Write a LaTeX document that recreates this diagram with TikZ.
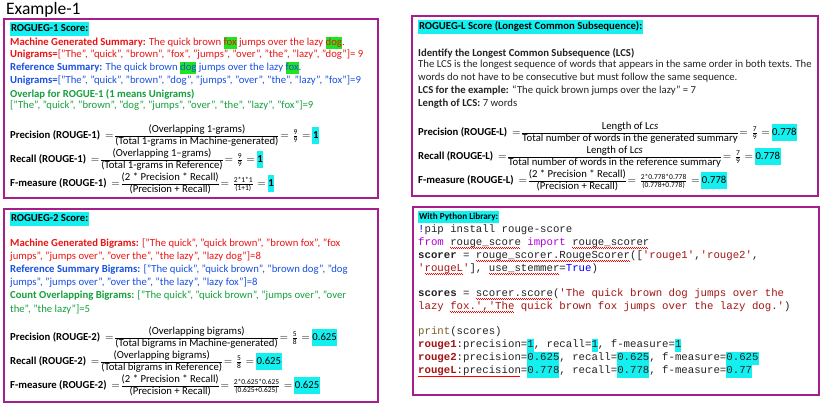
\documentclass[tikz,border=0pt]{standalone}
\usepackage{fontspec}
\usepackage{amsmath}
\setmainfont{Carlito}
\setmonofont{Liberation Mono}
\definecolor{frame}{RGB}{165,30,140}
\definecolor{hcyan}{RGB}{20,240,240}
\definecolor{hgreen}{RGB}{30,230,30}
\definecolor{tred}{RGB}{235,20,20}
\definecolor{tblue}{RGB}{25,80,225}
\definecolor{tgreen}{RGB}{20,160,60}
\definecolor{cpurple}{RGB}{175,0,219}
\definecolor{cstr}{RGB}{163,21,21}
\definecolor{cblue}{RGB}{0,0,255}
\definecolor{cprint}{RGB}{121,94,38}
\definecolor{ttext}{RGB}{35,35,35}
\newcommand{\hlc}[1]{{\setlength{\fboxsep}{0.8pt}\colorbox{hcyan}{\strut #1}}}
\newcommand{\hlg}[1]{{\setlength{\fboxsep}{0pt}\colorbox{hgreen}{\strut #1}}}
\newcommand{\hlk}[1]{{\setlength{\fboxsep}{0pt}\colorbox{hcyan}{\strut #1}}}
\newcommand{\hlf}[1]{{\setlength{\fboxsep}{0.6pt}\colorbox{hcyan}{\rule[-5pt]{0pt}{16pt}#1}}}
\newcommand{\ffrac}[2]{{\renewcommand{\arraystretch}{0.9}\begin{tabular}{@{}c@{}}#1\\\hline #2\end{tabular}}}
\newcommand{\sfr}[2]{\,$=$\,\,$\tfrac{\text{#1}}{\text{#2}}$\,\,$=$\,}
\newsavebox{\wavebox}
\newcommand{\rwave}[1]{\sbox{\wavebox}{#1}\rlap{\hbox to \wd\wavebox{\color{red}\leaders\hbox to 2pt{\rule[-2.6pt]{1pt}{0.6pt}\rule[-3.3pt]{1pt}{0.6pt}}\hfill}}\usebox{\wavebox}}
\tikzset{
  box/.style={draw=frame, line width=1.6pt},
  txt/.style={anchor=west, inner sep=0pt, font=\fontsize{10.7}{12.5}\selectfont},
  code/.style={anchor=west, inner sep=0pt, text=ttext, font=\ttfamily\fontsize{10.7}{13}\selectfont},
}
\begin{document}
\begin{tikzpicture}[x=1pt,y=-1pt]
\useasboundingbox[fill=white] (0,0) rectangle (828,415);
\node[anchor=west, inner sep=0pt, font=\fontsize{17.5}{20}\selectfont] (title) at (6,10) {Example-1};
% boxes
\draw[box] (4,19) rectangle (378,198);
\draw[box] (4,209) rectangle (378,402);
\draw[box] (412,16) rectangle (818,196);
\draw[box] (413,207) rectangle (819,395);
% ---- ROUGE-1
\node[txt] (a1) at (10,29) {\hlc{\textbf{ROGUEG-1 Score:}}};
\node[txt, text=tred] (a2) at (10,43) {\textbf{Machine Generated Summary:} The quick brown \hlg{fox} jumps over the lazy \hlg{dog}.};
\node[txt, text=tred] (a3) at (10,55) {\textbf{Unigrams=}["The", "quick", "brown", "fox", "jumps", "over", "the", "lazy", "dog"]= 9};
\node[txt, text=tblue] (a4) at (10,68) {\textbf{Reference Summary:} The quick brown \hlg{dog} jumps over the lazy \hlg{fox}.};
\node[txt, text=tblue] (a5) at (10,81) {\textbf{Unigrams=}["The", "quick", "brown", "dog", "jumps", "over", "the", "lazy", "fox"]=9};
\node[txt, text=tgreen] (a6) at (10,94) {\textbf{Overlap for ROGUE-1 (1 means Unigrams)}};
\node[txt, text=tgreen] (a7) at (10,106) {["The", "quick", "brown", "dog", "jumps", "over", "the", "lazy", "fox"]=9};
\node[txt] (a8) at (10,136) {\textbf{Precision (ROUGE-1)}~ $=$\,\ffrac{(Overlapping 1-grams)}{(Total 1-grams in Machine-generated)}\sfr{9}{9}\hlf{\textbf{1}}};
\node[txt] (a9) at (10,160) {\textbf{Recall (ROUGE-1)}~ $=$\,\ffrac{(Overlapping 1–grams)}{(Total 1-grams in Reference)}\sfr{9}{9}\hlf{\textbf{1}}};
\node[txt] (a10) at (10,184) {\textbf{F-measure (ROUGE-1)}~ $=$\,\ffrac{(2 * Precision * Recall)}{(Precision + Recall)}\sfr{2*1*1}{(1+1)}\hlf{\textbf{1}}};
% ---- ROUGE-2
\node[txt] (b1) at (10,219) {\hlc{\textbf{ROGUEG-2 Score:}}};
\node[txt, text=tred] (b2) at (10,244) {\textbf{Machine Generated Bigrams:} ["The quick", "quick brown", "brown fox", "fox};
\node[txt, text=tred] (b3) at (10,257) {jumps", "jumps over", "over the", "the lazy", "lazy dog"]=8};
\node[txt, text=tblue] (b4) at (10,270) {\textbf{Reference Summary Bigrams:} ["The quick", "quick brown", "brown dog", "dog};
\node[txt, text=tblue] (b5) at (10,283) {jumps", "jumps over", "over the", "the lazy", "lazy fox"]=8};
\node[txt, text=tgreen] (b6) at (10,296) {\textbf{Count Overlapping Bigrams:} ["The quick", "quick brown", "jumps over", "over};
\node[txt, text=tgreen] (b7) at (10,309) {the", "the lazy"]=5};
\node[txt] (b8) at (10,338) {\textbf{Precision (ROUGE-2)}~ $=$\,\ffrac{(Overlapping bigrams)}{(Total bigrams in Machine-generated)}\sfr{5}{8}\hlf{0.625}};
\node[txt] (b9) at (10,362) {\textbf{Recall (ROUGE-2)}~ $=$\,\ffrac{(Overlapping bigrams)}{(Total bigrams in Reference)}\sfr{5}{8}\hlf{0.625}};
\node[txt] (b10) at (10,386) {\textbf{F-measure (ROUGE-2)}~ $=$\,\ffrac{(2 * Precision * Recall)}{(Precision + Recall)}\sfr{2*0.625*0.625}{(0.625+0.625)}\hlf{0.625}};
% ---- ROUGE-L
\node[txt] (m1) at (418,27) {\hlc{\textbf{ROGUEG-L Score (Longest Common Subsequence):}}};
\node[txt, text=ttext] (m2) at (418,53) {\textbf{Identify the Longest Common Subsequence (LCS)}};
\node[txt, text=ttext] (m3) at (418,65) {The LCS is the longest sequence of words that appears in the same order in both texts. The};
\node[txt, text=ttext] (m4) at (418,78) {words do not have to be consecutive but must follow the same sequence.};
\node[txt, text=ttext] (m5) at (418,91) {\textbf{LCS for the example:} “The quick brown jumps over the lazy” = 7};
\node[txt, text=ttext] (m6) at (418,104) {\textbf{Length of LCS:} 7 words};
\node[txt] (m7) at (418,133) {\textbf{Precision (ROUGE-L)}~ $=$\,\ffrac{Length of L\textit{cs}}{Total number of words in the generated summary}\sfr{7}{9}\hlf{0.778}};
\node[txt] (m8) at (418,157) {\textbf{Recall (ROUGE-L)}~ $=$\,\ffrac{Length of L\textit{cs}}{Total number of words in the reference summary}\sfr{7}{9}\hlf{0.778}};
\node[txt] (m9) at (418,181) {\textbf{F-measure (ROUGE-L)}~ $=$\,\ffrac{(2 * Precision * Recall)}{(Precision + Recall)}\sfr{2*0.778*0.778}{(0.778+0.778)}\hlf{0.778}};
% ---- Python
\node[txt, font=\fontsize{9.2}{11}\selectfont] (c1) at (418,217) {\hlc{\textbf{With Python Library:}}};
\node[code] (c2) at (418,230) {{\color{cblue}!}pip install rouge-score};
\node[code] (c3) at (418,243) {{\color{cpurple}from} \rwave{rouge\_score} {\color{cpurple}import} \rwave{rouge\_scorer}};
\node[code] (c4) at (418,256) {\textbf{scorer} = \rwave{rouge\_scorer.RougeScorer}([{\color{cstr}'rouge1'},{\color{cstr}'rouge2'},};
\node[code] (c5) at (418,269) {{\color{cstr}'\rwave{rougeL}'}], \rwave{use\_stemmer}={\color{cblue}True})};
\node[code] (c6) at (418,294) {\textbf{scores} = \rwave{scorer.score}({\color{cstr}'The quick brown dog jumps over the}};
\node[code] (c7) at (418,307) {{\color{cstr}lazy \rwave{fox.','The} quick brown fox jumps over the lazy dog.'})};
\node[code] (c8) at (418,332) {{\color{cprint}print}(scores)};
\node[code] (c9) at (418,345) {{\color{cstr}\textbf{rouge1}}:precision=\hlk{1}, recall=\hlk{1}, f-measure=\hlk{1}};
\node[code] (c10) at (418,358) {{\color{cstr}\textbf{rouge2}}:precision=\hlk{0.625}, recall=\hlk{0.625}, f-measure=\hlk{0.625}};
\node[code] (c11) at (418,371) {\rwave{{\color{cstr}\textbf{rougeL}}:precision}=\hlk{0.778}, recall=\hlk{0.778}, f-measure=\hlk{0.77}};
\end{tikzpicture}
\end{document}
